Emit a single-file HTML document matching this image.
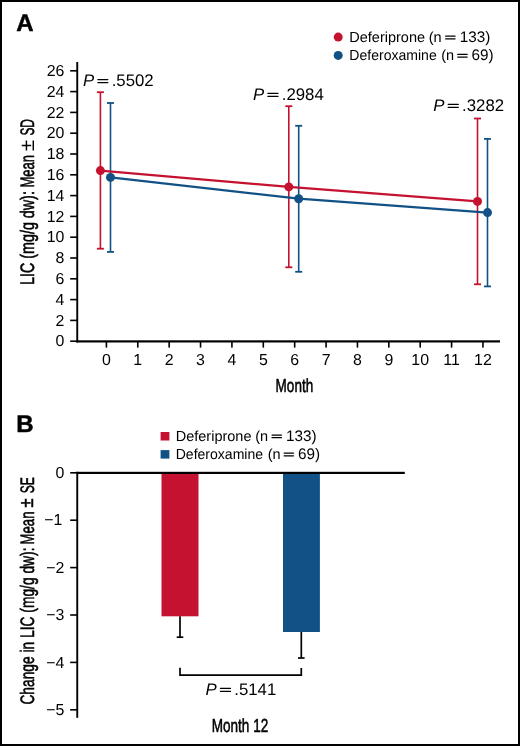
<!DOCTYPE html>
<html><head><meta charset="utf-8"><style>
html,body{margin:0;padding:0;background:#fff;}
body{width:520px;height:746px;overflow:hidden;}
svg{display:block;will-change:transform;}
text{font-family:"Liberation Sans",sans-serif;fill:#000;text-rendering:geometricPrecision;}
.bold{font-weight:bold;stroke:#000;stroke-width:0.5px;}
.tick{font-size:15.9px;}
.it{font-style:italic;}
.cond{stroke:#000;stroke-width:0.55px;}
</style></head><body>
<svg width="520" height="746" viewBox="0 0 520 746">
<rect x="1" y="1" width="518" height="744" fill="#fff" stroke="#000" stroke-width="2"/>
<text x="16.3" y="31" class="bold" font-size="24">A</text>
<text x="16.2" y="431.7" class="bold" font-size="24">B</text>
<rect x="76.3" y="62" width="1.9" height="280.5" fill="#000"/>
<rect x="76.3" y="340.3" width="423.7" height="2.2" fill="#000"/>
<rect x="70.2" y="340.40" width="7" height="1.6" fill="#000"/>
<text x="64.4" y="346.30" text-anchor="end" class="tick">0</text>
<rect x="70.2" y="319.60" width="7" height="1.6" fill="#000"/>
<text x="64.4" y="325.50" text-anchor="end" class="tick">2</text>
<rect x="70.2" y="298.80" width="7" height="1.6" fill="#000"/>
<text x="64.4" y="304.70" text-anchor="end" class="tick">4</text>
<rect x="70.2" y="278.00" width="7" height="1.6" fill="#000"/>
<text x="64.4" y="283.90" text-anchor="end" class="tick">6</text>
<rect x="70.2" y="257.20" width="7" height="1.6" fill="#000"/>
<text x="64.4" y="263.10" text-anchor="end" class="tick">8</text>
<rect x="70.2" y="236.40" width="7" height="1.6" fill="#000"/>
<text x="64.4" y="242.30" text-anchor="end" class="tick">10</text>
<rect x="70.2" y="215.60" width="7" height="1.6" fill="#000"/>
<text x="64.4" y="221.50" text-anchor="end" class="tick">12</text>
<rect x="70.2" y="194.80" width="7" height="1.6" fill="#000"/>
<text x="64.4" y="200.70" text-anchor="end" class="tick">14</text>
<rect x="70.2" y="174.00" width="7" height="1.6" fill="#000"/>
<text x="64.4" y="179.90" text-anchor="end" class="tick">16</text>
<rect x="70.2" y="153.20" width="7" height="1.6" fill="#000"/>
<text x="64.4" y="159.10" text-anchor="end" class="tick">18</text>
<rect x="70.2" y="132.40" width="7" height="1.6" fill="#000"/>
<text x="64.4" y="138.30" text-anchor="end" class="tick">20</text>
<rect x="70.2" y="111.60" width="7" height="1.6" fill="#000"/>
<text x="64.4" y="117.50" text-anchor="end" class="tick">22</text>
<rect x="70.2" y="90.80" width="7" height="1.6" fill="#000"/>
<text x="64.4" y="96.70" text-anchor="end" class="tick">24</text>
<rect x="70.2" y="70.00" width="7" height="1.6" fill="#000"/>
<text x="64.4" y="75.90" text-anchor="end" class="tick">26</text>
<rect x="105.60" y="341" width="1.6" height="6.6" fill="#000"/>
<text x="106.40" y="365.0" text-anchor="middle" class="tick">0</text>
<rect x="136.98" y="341" width="1.6" height="6.6" fill="#000"/>
<text x="137.78" y="365.0" text-anchor="middle" class="tick">1</text>
<rect x="168.36" y="341" width="1.6" height="6.6" fill="#000"/>
<text x="169.16" y="365.0" text-anchor="middle" class="tick">2</text>
<rect x="199.74" y="341" width="1.6" height="6.6" fill="#000"/>
<text x="200.54" y="365.0" text-anchor="middle" class="tick">3</text>
<rect x="231.12" y="341" width="1.6" height="6.6" fill="#000"/>
<text x="231.92" y="365.0" text-anchor="middle" class="tick">4</text>
<rect x="262.50" y="341" width="1.6" height="6.6" fill="#000"/>
<text x="263.30" y="365.0" text-anchor="middle" class="tick">5</text>
<rect x="293.88" y="341" width="1.6" height="6.6" fill="#000"/>
<text x="294.68" y="365.0" text-anchor="middle" class="tick">6</text>
<rect x="325.26" y="341" width="1.6" height="6.6" fill="#000"/>
<text x="326.06" y="365.0" text-anchor="middle" class="tick">7</text>
<rect x="356.64" y="341" width="1.6" height="6.6" fill="#000"/>
<text x="357.44" y="365.0" text-anchor="middle" class="tick">8</text>
<rect x="388.02" y="341" width="1.6" height="6.6" fill="#000"/>
<text x="388.82" y="365.0" text-anchor="middle" class="tick">9</text>
<rect x="419.40" y="341" width="1.6" height="6.6" fill="#000"/>
<text x="420.20" y="365.0" text-anchor="middle" class="tick">10</text>
<rect x="450.78" y="341" width="1.6" height="6.6" fill="#000"/>
<text x="451.58" y="365.0" text-anchor="middle" class="tick">11</text>
<rect x="482.16" y="341" width="1.6" height="6.6" fill="#000"/>
<text x="482.96" y="365.0" text-anchor="middle" class="tick">12</text>
<line x1="100.4" y1="92.2" x2="100.4" y2="248.7" stroke="#c41230" stroke-width="1.6"/>
<line x1="96.9" y1="92.2" x2="103.9" y2="92.2" stroke="#c41230" stroke-width="1.8"/>
<line x1="96.9" y1="248.7" x2="103.9" y2="248.7" stroke="#c41230" stroke-width="1.8"/>
<line x1="288.8" y1="106.2" x2="288.8" y2="267.3" stroke="#c41230" stroke-width="1.6"/>
<line x1="285.3" y1="106.2" x2="292.3" y2="106.2" stroke="#c41230" stroke-width="1.8"/>
<line x1="285.3" y1="267.3" x2="292.3" y2="267.3" stroke="#c41230" stroke-width="1.8"/>
<line x1="477.5" y1="118.5" x2="477.5" y2="284.3" stroke="#c41230" stroke-width="1.6"/>
<line x1="474.0" y1="118.5" x2="481.0" y2="118.5" stroke="#c41230" stroke-width="1.8"/>
<line x1="474.0" y1="284.3" x2="481.0" y2="284.3" stroke="#c41230" stroke-width="1.8"/>
<line x1="110.5" y1="103.0" x2="110.5" y2="251.9" stroke="#115185" stroke-width="1.6"/>
<line x1="107.0" y1="103.0" x2="114.0" y2="103.0" stroke="#115185" stroke-width="1.8"/>
<line x1="107.0" y1="251.9" x2="114.0" y2="251.9" stroke="#115185" stroke-width="1.8"/>
<line x1="298.7" y1="125.8" x2="298.7" y2="271.8" stroke="#115185" stroke-width="1.6"/>
<line x1="295.2" y1="125.8" x2="302.2" y2="125.8" stroke="#115185" stroke-width="1.8"/>
<line x1="295.2" y1="271.8" x2="302.2" y2="271.8" stroke="#115185" stroke-width="1.8"/>
<line x1="487.5" y1="138.9" x2="487.5" y2="286.4" stroke="#115185" stroke-width="1.6"/>
<line x1="484.0" y1="138.9" x2="491.0" y2="138.9" stroke="#115185" stroke-width="1.8"/>
<line x1="484.0" y1="286.4" x2="491.0" y2="286.4" stroke="#115185" stroke-width="1.8"/>
<polyline points="100.4,170.6 288.8,186.9 477.5,201.4" fill="none" stroke="#c41230" stroke-width="2.2"/>
<polyline points="110.5,177.4 298.7,198.7 487.5,212.6" fill="none" stroke="#115185" stroke-width="2.2"/>
<circle cx="100.4" cy="170.6" r="4.5" fill="#c41230"/>
<circle cx="288.8" cy="186.9" r="4.5" fill="#c41230"/>
<circle cx="477.5" cy="201.4" r="4.5" fill="#c41230"/>
<circle cx="110.5" cy="177.4" r="4.5" fill="#115185"/>
<circle cx="298.7" cy="198.7" r="4.5" fill="#115185"/>
<circle cx="487.5" cy="212.6" r="4.5" fill="#115185"/>
<text x="82.88" y="85.8" class="it" font-size="16.8">P</text><line x1="97.85" y1="79.60" x2="107.85" y2="79.60" stroke="#000" stroke-width="1.3" stroke-linecap="round"/><line x1="97.85" y1="82.60" x2="107.85" y2="82.60" stroke="#000" stroke-width="1.3" stroke-linecap="round"/><text x="111.67" y="85.8" font-size="16.8">.5502</text>
<text x="252.98" y="99.6" class="it" font-size="16.8">P</text><line x1="267.95" y1="93.40" x2="277.95" y2="93.40" stroke="#000" stroke-width="1.3" stroke-linecap="round"/><line x1="267.95" y1="96.40" x2="277.95" y2="96.40" stroke="#000" stroke-width="1.3" stroke-linecap="round"/><text x="281.77" y="99.6" font-size="16.8">.2984</text>
<text x="433.28" y="110.6" class="it" font-size="16.8">P</text><line x1="448.25" y1="104.40" x2="458.25" y2="104.40" stroke="#000" stroke-width="1.3" stroke-linecap="round"/><line x1="448.25" y1="107.40" x2="458.25" y2="107.40" stroke="#000" stroke-width="1.3" stroke-linecap="round"/><text x="462.07" y="110.6" font-size="16.8">.3282</text>
<text x="205.48" y="694.6" class="it" font-size="16.8">P</text><line x1="220.45" y1="688.40" x2="230.45" y2="688.40" stroke="#000" stroke-width="1.3" stroke-linecap="round"/><line x1="220.45" y1="691.40" x2="230.45" y2="691.40" stroke="#000" stroke-width="1.3" stroke-linecap="round"/><text x="234.27" y="694.6" font-size="16.8">.5141</text>
<circle cx="338.2" cy="37.1" r="4.5" fill="#c41230"/>
<circle cx="338.2" cy="55.4" r="4.5" fill="#115185"/>
<text x="349.31" y="41.7" font-size="14.5">Deferiprone</text><text x="428.79" y="41.7" font-size="14.5">(n</text><line x1="445.65" y1="36.20" x2="455.05" y2="36.20" stroke="#000" stroke-width="1.3" stroke-linecap="round"/><line x1="445.65" y1="38.80" x2="455.05" y2="38.80" stroke="#000" stroke-width="1.3" stroke-linecap="round"/><text x="459.64" y="41.7" font-size="15.3">133)</text><text x="349.31" y="60.0" font-size="14.5" textLength="87.4" lengthAdjust="spacingAndGlyphs">Deferoxamine</text><text x="441.29" y="60.0" font-size="14.5">(n</text><line x1="457.75" y1="54.40" x2="467.10" y2="54.40" stroke="#000" stroke-width="1.3" stroke-linecap="round"/><line x1="457.75" y1="57.10" x2="467.10" y2="57.10" stroke="#000" stroke-width="1.3" stroke-linecap="round"/><text x="471.52" y="60.0" font-size="15.3">69)</text>
<rect x="160.6" y="432" width="8.8" height="8.5" fill="#c41230"/>
<rect x="160.6" y="450.1" width="8.8" height="8.5" fill="#115185"/>
<text x="175.71" y="440.6" font-size="14.5">Deferiprone</text><text x="255.19" y="440.6" font-size="14.5">(n</text><line x1="272.05" y1="435.10" x2="281.45" y2="435.10" stroke="#000" stroke-width="1.3" stroke-linecap="round"/><line x1="272.05" y1="437.70" x2="281.45" y2="437.70" stroke="#000" stroke-width="1.3" stroke-linecap="round"/><text x="286.04" y="440.6" font-size="15.3">133)</text><text x="175.71" y="458.7" font-size="14.5" textLength="87.4" lengthAdjust="spacingAndGlyphs">Deferoxamine</text><text x="267.69" y="458.7" font-size="14.5">(n</text><line x1="284.15" y1="453.10" x2="293.50" y2="453.10" stroke="#000" stroke-width="1.3" stroke-linecap="round"/><line x1="284.15" y1="455.80" x2="293.50" y2="455.80" stroke="#000" stroke-width="1.3" stroke-linecap="round"/><text x="297.92" y="458.7" font-size="15.3">69)</text>
<text transform="translate(275.6,392.2) scale(0.72,1)" class="cond" font-size="18.8">Month</text>
<text transform="translate(211.7,731.8) scale(0.722,1)" class="cond" font-size="18.8">Month 12</text>
<text transform="translate(34,285.00) rotate(-90) scale(0.734,1)" class="cond" font-size="19.5">LIC (mg/g dw):</text>
<text transform="translate(34,187.60) rotate(-90) scale(0.667,1)" class="cond" font-size="19.5">Mean</text>
<text transform="translate(34,151.20) rotate(-90) scale(1.000,1)" class="reg" font-size="20.6">±</text>
<text transform="translate(34,135.60) rotate(-90) scale(0.609,1)" class="cond" font-size="19.5">SD</text>
<text transform="translate(33.8,704.60) rotate(-90) scale(0.707,1)" class="cond" font-size="19.5">Change in LIC (mg/g dw):</text>
<text transform="translate(33.8,544.40) rotate(-90) scale(0.673,1)" class="cond" font-size="19.5">Mean</text>
<text transform="translate(33.2,507.40) rotate(-90) scale(0.840,1)" class="cond" font-size="19.8">±</text>
<text transform="translate(33.8,493.30) rotate(-90) scale(0.621,1)" class="cond" font-size="19.5">SE</text>
<rect x="76.3" y="471.8" width="1.9" height="246" fill="#000"/>
<rect x="76.3" y="471.8" width="328.5" height="2.2" fill="#000"/>
<rect x="70.2" y="472.00" width="7" height="1.6" fill="#000"/>
<text x="64.4" y="477.90" text-anchor="end" class="tick">0</text>
<rect x="70.2" y="519.40" width="7" height="1.6" fill="#000"/>
<text x="62.4" y="525.30" text-anchor="end" class="tick">−1</text>
<rect x="70.2" y="566.80" width="7" height="1.6" fill="#000"/>
<text x="64.4" y="572.70" text-anchor="end" class="tick">−2</text>
<rect x="70.2" y="614.20" width="7" height="1.6" fill="#000"/>
<text x="64.4" y="620.10" text-anchor="end" class="tick">−3</text>
<rect x="70.2" y="661.60" width="7" height="1.6" fill="#000"/>
<text x="64.4" y="667.50" text-anchor="end" class="tick">−4</text>
<rect x="70.2" y="709.00" width="7" height="1.6" fill="#000"/>
<text x="64.4" y="714.90" text-anchor="end" class="tick">−5</text>
<rect x="161.5" y="474" width="37" height="142.3" fill="#c41230"/>
<rect x="283" y="474" width="36.9" height="158" fill="#115185"/>
<line x1="180" y1="616.3" x2="180" y2="637.2" stroke="#000" stroke-width="1.7"/>
<line x1="176.7" y1="637.2" x2="183.3" y2="637.2" stroke="#000" stroke-width="1.7"/>
<line x1="301.3" y1="632" x2="301.3" y2="658" stroke="#000" stroke-width="1.7"/>
<line x1="298.0" y1="658" x2="304.6" y2="658" stroke="#000" stroke-width="1.7"/>
<polyline points="180,667.7 180,675.1 301.3,675.1 301.3,668" fill="none" stroke="#000" stroke-width="1.7"/>
</svg>
</body></html>
